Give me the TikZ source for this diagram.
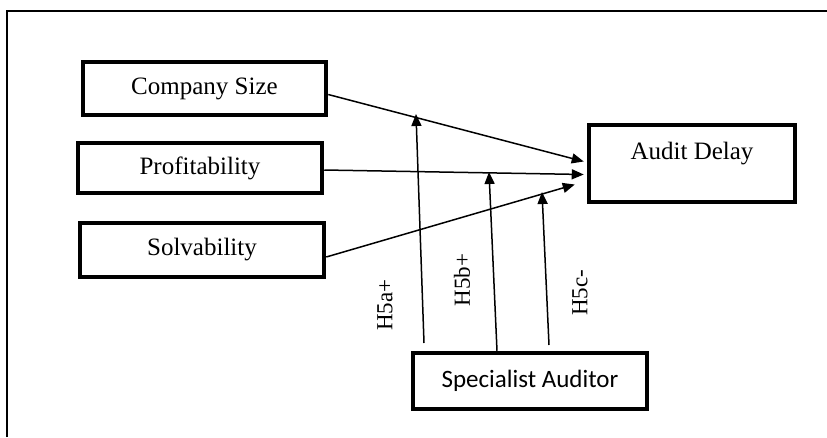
\documentclass[tikz,border=0pt]{standalone}
\usepackage{fontspec}
\setmainfont{Liberation Serif}
\newfontfamily\calib{Carlito}
\usetikzlibrary{arrows.meta}

\tikzset{
  varbox/.style={draw=black, line width=4.5pt, rectangle, inner sep=0pt,
    font=\fontsize{25}{28}\selectfont},
  conn/.style={draw=black, line width=1.5pt,
    -{Triangle[length=12pt,width=10pt]}},
  hyp/.style={rotate=90, font=\fontsize{23}{26}\selectfont, inner sep=0pt},
}

\begin{document}
\begin{tikzpicture}[x=1pt, y=-1pt]
\useasboundingbox (0,0) rectangle (827,437);

% surrounding frame (open towards bottom and right)
\draw[line width=1.6pt] (7,437) -- (7,11) -- (827,11);

% variables
\node[varbox, minimum width=243pt, minimum height=53pt] (cs) at (204.5,88.5) {Company Size};
\node[varbox, minimum width=244pt, minimum height=50pt] (pr) at (200,168) {Profitability};
\node[varbox, minimum width=244pt, minimum height=54pt] (sv) at (202,250) {Solvability};
\node[varbox, minimum width=206pt, minimum height=77pt] (ad) at (692,163.5) {};
\node[font=\fontsize{25}{28}\selectfont, anchor=base] (adt) at (692,159) {Audit Delay};
\node[varbox, minimum width=234pt, minimum height=56pt, font=\calib\fontsize{25}{28}\selectfont] (sa) at (530,381) {Specialist Auditor};

% points where the moderating arrows meet the direct paths
\coordinate (ta) at (416,114);
\coordinate (tb) at (489,172);
\coordinate (tc) at (542,192);
\coordinate (ba) at (424,343);
\coordinate (bc) at (549,345);

% direct effects
\draw[conn] ([yshift=-6pt]cs.east) -- ([xshift=-3pt,yshift=2pt]ad.west);
\draw[conn] ([yshift=-2pt]pr.east) -- ([xshift=-3pt,yshift=-11pt]ad.west);
\draw[conn] ([yshift=-7pt]sv.east) -- ([xshift=-12pt,yshift=-21pt]ad.west);

% moderating effects
\draw[conn] (ba) -- (ta);
\draw[conn] (sa.north -| 497,0) -- (tb);
\draw[conn] (bc) -- (tc);

% hypothesis labels
\node[hyp] (h5a) at (385,305) {H5a+};
\node[hyp] (h5b) at (462,280) {H5b+};
\node[hyp] (h5c) at (580,293) {H5c-};
\end{tikzpicture}
\end{document}
